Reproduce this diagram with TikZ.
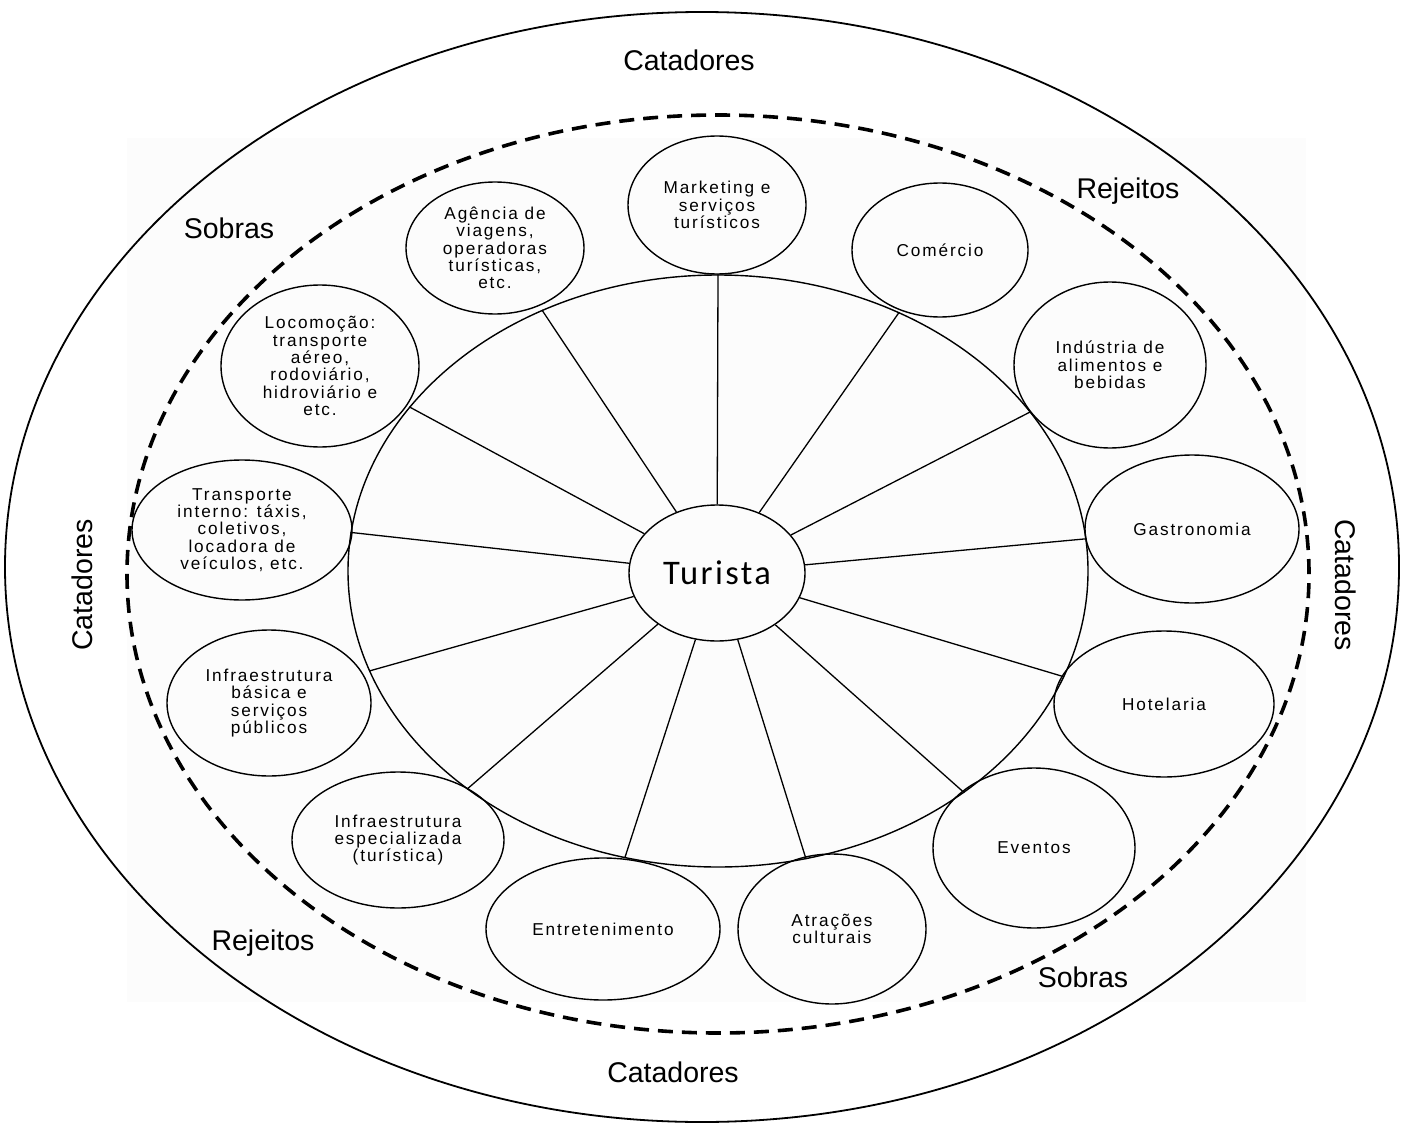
\documentclass[tikz,border=0pt]{standalone}
\usepackage{fontspec}
\setmainfont{Liberation Sans}
\newfontfamily\bubfamily[LetterSpace=11]{Liberation Sans}
\newfontfamily\centrefamily[LetterSpace=7]{Carlito}
\usetikzlibrary{shapes.geometric}
\newcommand\bubfont{\bubfamily\fontsize{17.2pt}{17.3pt}\selectfont}
\newcommand\labfont{\fontsize{28.5pt}{32pt}\selectfont}
\newcommand\centrefont{\centrefamily\fontsize{34.5pt}{38pt}\selectfont}

\begin{document}
\begin{tikzpicture}[x=1pt,y=-1pt,
  bub/.style={draw, ellipse, inner sep=0pt, line width=1.4pt, font=\bubfont, align=center},
  sz/.style 2 args={minimum width=#1pt, minimum height=#2pt},
  lab/.style={font=\labfont, anchor=base, inner sep=0pt},
  spoke/.style={line width=1.3pt},
  ring/.style={draw, ellipse, inner sep=0pt, line width=1.4pt}]
\useasboundingbox (0,0) rectangle (1402,1126);

% pale panel behind the inner diagram
\fill[black!1.2] (127,138) rectangle (1306,1002);

% outer boundary and dashed boundary
\draw[line width=1.8pt] (702,567) ellipse [x radius=697pt, y radius=555pt];
\draw[line width=3.6pt, dash pattern=on 15pt off 9pt] (718,574) ellipse [x radius=591pt, y radius=459pt];

% hub and wheel
\node[ring, minimum width=740pt, minimum height=592pt] (big) at (718,571) {};
\node[ring, minimum width=176pt, minimum height=136pt, font=\centrefont] (tur) at (717,573) {Turista};

\foreach \a in {124.5,90,55.6,27.5,5.1,343.5,318.7,287.5,252.1,221,196.4,174.8,152.2}
  \draw[spoke] (tur) -- (big.\a);

% surrounding services
\node[bub, sz={178}{132}] (ag) at (495,248) {Agência de\\viagens,\\operadoras\\turísticas,\\etc.};
\node[bub, sz={178}{138}] (mk) at (717,205) {Marketing e\\serviços\\turísticos};
\node[bub, sz={176}{134}] (co) at (940,250) {Comércio};
\node[bub, sz={192}{166}] (in) at (1110,365) {Indústria de\\alimentos e\\bebidas};
\node[bub, sz={214}{148}] (ga) at (1192,529) {Gastronomia};
\node[bub, sz={220}{146}] (ho) at (1164,704) {Hotelaria};
\node[bub, sz={202}{160}] (ev) at (1034,848) {Eventos};
\node[bub, sz={188}{150}] (at) at (832,929) {Atrações\\culturais};
\node[bub, sz={234}{142}] (en) at (603,929) {Entretenimento};
\node[bub, sz={212}{136}] (ie) at (398,840) {Infraestrutura\\especializada\\(turística)};
\node[bub, sz={204}{146}] (ib) at (269,703) {Infraestrutura\\básica e\\serviços\\públicos};
\node[bub, sz={220}{140}] (ti) at (242,530) {Transporte\\interno: táxis,\\coletivos,\\locadora de\\veículos, etc.};
\node[bub, sz={198}{162}] (lo) at (320,366) {Locomoção:\\transporte\\aéreo,\\rodoviário,\\hidroviário e\\etc.};

% ring labels
\node[lab] (cattop) at (689,71) {Catadores};
\node[lab] (catbot) at (673,1082) {Catadores};
\node[lab, anchor=center, rotate=90] (catleft) at (82,585) {Catadores};
\node[lab, anchor=center, rotate=-90] (catright) at (1346,585) {Catadores};
\node[lab] (sobtop) at (229,238) {Sobras};
\node[lab] (sobbot) at (1083,987) {Sobras};
\node[lab] (rejtop) at (1128,199) {Rejeitos};
\node[lab] (rejbot) at (263,950) {Rejeitos};
\end{tikzpicture}
\end{document}
